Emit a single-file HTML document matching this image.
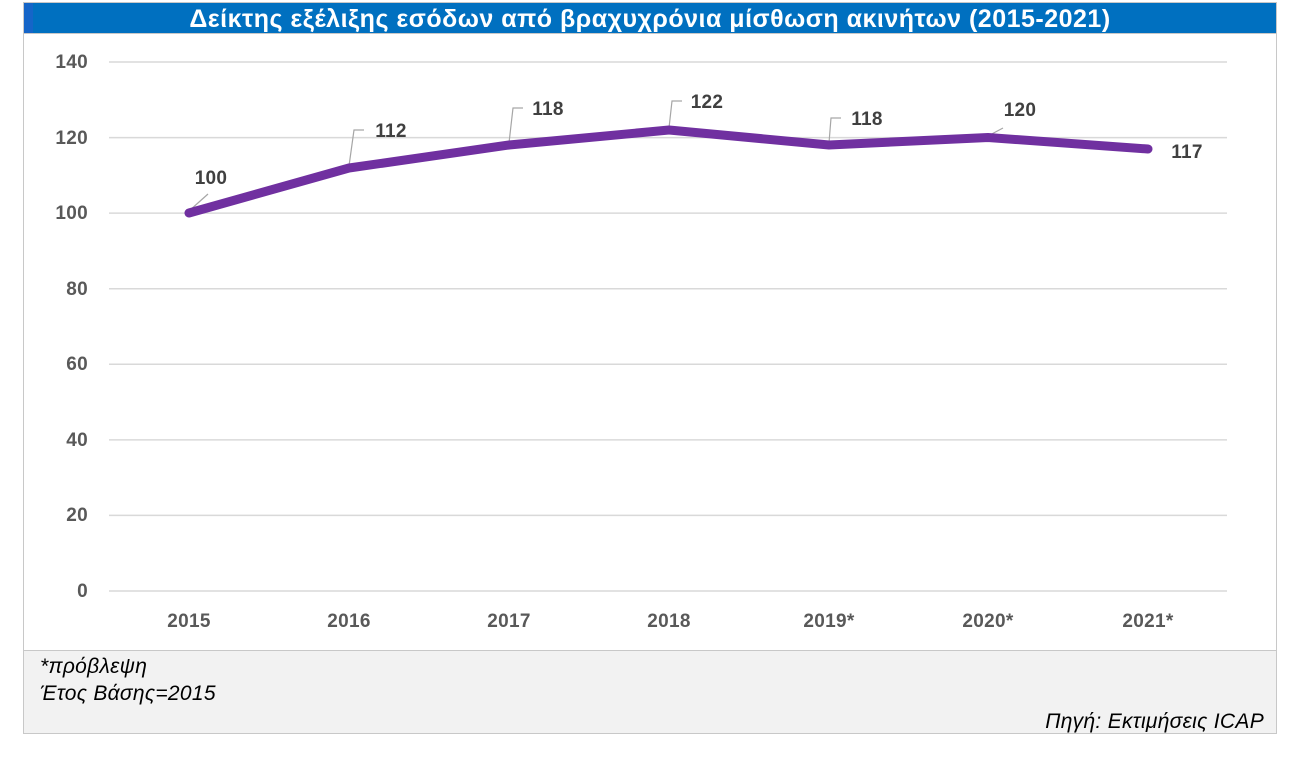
<!DOCTYPE html><html><head><meta charset="utf-8"><style>
body{margin:0;background:#fff;width:1300px;height:768px;overflow:hidden;font-family:"Liberation Sans","DejaVu Sans",sans-serif}
</style></head><body>
<svg width="1300" height="768" xmlns="http://www.w3.org/2000/svg" font-family="Liberation Sans, DejaVu Sans, sans-serif">
<rect x="23.5" y="2.5" width="1253" height="731" fill="#fff" stroke="#c8c8c8"/>
<rect x="24" y="3" width="1252" height="30" fill="#0070C0"/>
<rect x="24" y="3" width="9" height="30" fill="#1565c8"/>
<text x="650" y="27" text-anchor="middle" fill="#fff" font-size="25" font-weight="bold" letter-spacing="0.5">Δείκτης εξέλιξης εσόδων από βραχυχρόνια μίσθωση ακινήτων (2015-2021)</text>
<line x1="24" y1="33.5" x2="1276" y2="33.5" stroke="#c8c8c8"/>
<g stroke="#d9d9d9" stroke-width="1.5">
<line x1="109" x2="1227" y1="62" y2="62"/><line x1="109" x2="1227" y1="137.6" y2="137.6"/>
<line x1="109" x2="1227" y1="213.1" y2="213.1"/><line x1="109" x2="1227" y1="288.7" y2="288.7"/>
<line x1="109" x2="1227" y1="364.3" y2="364.3"/><line x1="109" x2="1227" y1="439.9" y2="439.9"/>
<line x1="109" x2="1227" y1="515.4" y2="515.4"/><line x1="109" x2="1227" y1="591" y2="591"/>
</g>
<g fill="#595959" font-size="19" font-weight="bold" text-anchor="end" letter-spacing="0.3">
<text x="88" y="68">140</text><text x="88" y="144">120</text><text x="88" y="219">100</text><text x="88" y="295">80</text>
<text x="88" y="370">60</text><text x="88" y="446">40</text><text x="88" y="521">20</text><text x="88" y="597">0</text>
</g>
<g fill="#595959" font-size="19" font-weight="bold" text-anchor="middle" letter-spacing="0.3">
<text x="189" y="627">2015</text><text x="349" y="627">2016</text><text x="509" y="627">2017</text><text x="669" y="627">2018</text>
<text x="829" y="627">2019*</text><text x="988" y="627">2020*</text><text x="1148" y="627">2021*</text>
</g>
<g stroke="#a6a6a6" stroke-width="1.2" fill="none">
<polyline points="189,211 208,194"/>
<polyline points="349,166 354,130 364,130"/>
<polyline points="509,143 513,108 523,108"/>
<polyline points="669,128 672,101 682,101"/>
<polyline points="829,143 831,118 841,118"/>
<polyline points="988,136 1003,128"/>
</g>
<polyline points="189,213 349,168 509,145 669,130 829,145 988,137.5 1148,149" fill="none" stroke="#7030A0" stroke-width="9" stroke-linejoin="round" stroke-linecap="round"/>
<g fill="#404040" font-size="19" font-weight="bold" text-anchor="middle" letter-spacing="0.3">
<text x="211" y="184">100</text><text x="391" y="137">112</text><text x="548" y="115">118</text><text x="707" y="108">122</text>
<text x="867" y="125">118</text><text x="1020" y="116">120</text><text x="1187" y="158">117</text>
</g>
<rect x="24" y="650" width="1252" height="83" fill="#f2f2f2"/>
<line x1="24" y1="650.5" x2="1276" y2="650.5" stroke="#c8c8c8"/>
<g font-size="21" font-style="italic" fill="#000" letter-spacing="0.3">
<text x="40" y="673">*πρόβλεψη</text><text x="40" y="700">Έτος Βάσης=2015</text>
<text x="1264" y="728" text-anchor="end">Πηγή: Εκτιμήσεις ICAP</text>
</g>
</svg>
</body></html>
